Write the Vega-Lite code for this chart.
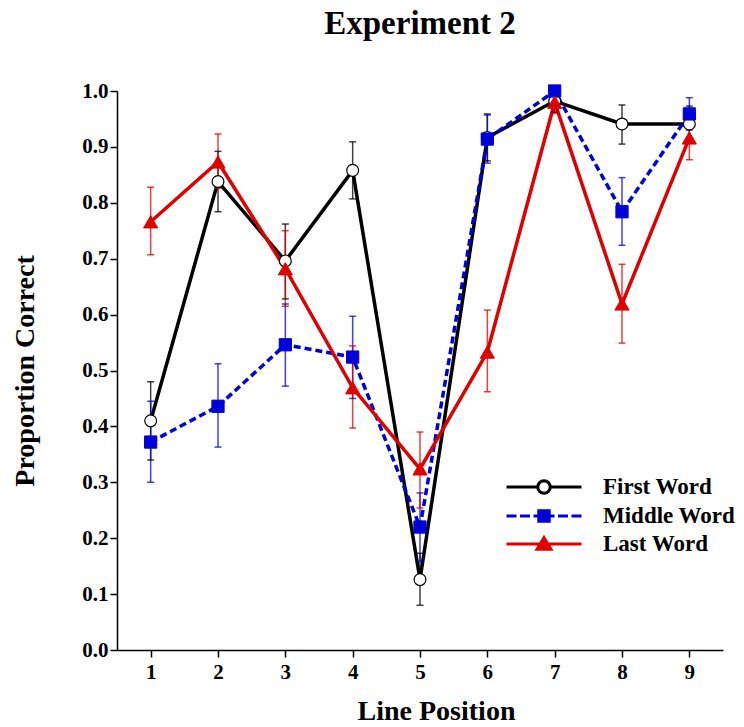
{
  "$schema": "https://vega.github.io/schema/vega-lite/v6.json",
  "width": 606,
  "height": 559,
  "autosize": {"type": "none"},
  "padding": {"left": 117, "top": 91, "right": 21, "bottom": 77},
  "background": "white",
  "title": {"text": "Experiment 2", "font": "Liberation Serif", "fontSize": 33, "fontWeight": "bold", "color": "black", "anchor": "middle", "offset": 39},
  "config": {
    "font": "Liberation Serif",
    "view": {"stroke": null},
    "axis": {"grid": false, "domainColor": "black", "domainWidth": 1.5, "tickColor": "black", "tickWidth": 1.5, "tickSize": 7, "labelFont": "Liberation Serif", "labelFontWeight": "bold", "labelFontSize": 21, "labelColor": "black", "titleFont": "Liberation Serif", "titleFontWeight": "bold", "titleFontSize": 28, "titleColor": "black"}
  },
  "data": {"values": [
    {"pos": 1, "series": "First Word", "y": 0.41, "lo": 0.34, "hi": 0.48},
    {"pos": 2, "series": "First Word", "y": 0.838, "lo": 0.784, "hi": 0.892},
    {"pos": 3, "series": "First Word", "y": 0.696, "lo": 0.628, "hi": 0.762},
    {"pos": 4, "series": "First Word", "y": 0.858, "lo": 0.807, "hi": 0.909},
    {"pos": 5, "series": "First Word", "y": 0.126, "lo": 0.08, "hi": 0.173},
    {"pos": 6, "series": "First Word", "y": 0.917, "lo": 0.875, "hi": 0.959},
    {"pos": 7, "series": "First Word", "y": 0.982, "lo": 0.962, "hi": 1.0},
    {"pos": 8, "series": "First Word", "y": 0.941, "lo": 0.905, "hi": 0.975},
    {"pos": 9, "series": "First Word", "y": 0.941, "lo": 0.91, "hi": 0.973},
    {"pos": 1, "series": "Middle Word", "y": 0.372, "lo": 0.3, "hi": 0.445},
    {"pos": 2, "series": "Middle Word", "y": 0.436, "lo": 0.363, "hi": 0.512},
    {"pos": 3, "series": "Middle Word", "y": 0.546, "lo": 0.472, "hi": 0.619},
    {"pos": 4, "series": "Middle Word", "y": 0.524, "lo": 0.45, "hi": 0.597},
    {"pos": 5, "series": "Middle Word", "y": 0.22, "lo": 0.159, "hi": 0.281},
    {"pos": 6, "series": "Middle Word", "y": 0.914, "lo": 0.871, "hi": 0.957},
    {"pos": 7, "series": "Middle Word", "y": 1.0, "lo": 1.0, "hi": 1.0},
    {"pos": 8, "series": "Middle Word", "y": 0.784, "lo": 0.724, "hi": 0.845},
    {"pos": 9, "series": "Middle Word", "y": 0.959, "lo": 0.93, "hi": 0.988},
    {"pos": 1, "series": "Last Word", "y": 0.766, "lo": 0.707, "hi": 0.828},
    {"pos": 2, "series": "Last Word", "y": 0.873, "lo": 0.826, "hi": 0.923},
    {"pos": 3, "series": "Last Word", "y": 0.682, "lo": 0.615, "hi": 0.75},
    {"pos": 4, "series": "Last Word", "y": 0.469, "lo": 0.397, "hi": 0.544},
    {"pos": 5, "series": "Last Word", "y": 0.324, "lo": 0.254, "hi": 0.39},
    {"pos": 6, "series": "Last Word", "y": 0.533, "lo": 0.462, "hi": 0.608},
    {"pos": 7, "series": "Last Word", "y": 0.98, "lo": 0.96, "hi": 1.0},
    {"pos": 8, "series": "Last Word", "y": 0.619, "lo": 0.549, "hi": 0.69},
    {"pos": 9, "series": "Last Word", "y": 0.916, "lo": 0.877, "hi": 0.955}
  ]},
  "encoding": {
    "x": {"field": "pos", "type": "quantitative", "scale": {"domain": [0.5, 9.5], "nice": false, "zero": false},
          "axis": {"values": [1, 2, 3, 4, 5, 6, 7, 8, 9], "format": "d", "title": "Line Position", "labelPadding": 4, "titlePadding": 15, "titleX": 319}}
  },
  "layer": [
    {
      "transform": [{"filter": "datum.series === 'First Word'"}],
      "mark": {"type": "line", "strokeWidth": 3.5},
      "encoding": {
        "y": {"field": "y", "type": "quantitative", "scale": {"domain": [0, 1], "nice": false},
              "axis": {"values": [0, 0.1, 0.2, 0.3, 0.4, 0.5, 0.6, 0.7, 0.8, 0.9, 1.0], "format": ".1f", "title": "Proportion Correct", "labelPadding": 2, "titlePadding": 42}},
        "stroke": {"field": "series", "type": "nominal", "scale": {"domain": ["First Word", "Middle Word", "Last Word"], "range": ["#000000", "#0000d8", "#e00000"]}}
      }
    },
    {
      "transform": [{"filter": "datum.series === 'Middle Word'"}],
      "mark": {"type": "line", "strokeWidth": 3.5, "strokeDash": [7, 4]},
      "encoding": {
        "y": {"field": "y", "type": "quantitative"},
        "stroke": {"field": "series", "type": "nominal"}
      }
    },
    {
      "transform": [{"filter": "datum.series === 'Last Word'"}],
      "mark": {"type": "line", "strokeWidth": 3.5},
      "encoding": {
        "y": {"field": "y", "type": "quantitative"},
        "stroke": {"field": "series", "type": "nominal"}
      }
    },
    {
      "mark": {"type": "rule", "strokeWidth": 1.5, "opacity": 0.75},
      "encoding": {
        "y": {"field": "lo", "type": "quantitative"},
        "y2": {"field": "hi"},
        "color": {"field": "series", "type": "nominal", "scale": {"domain": ["Last Word", "Middle Word", "First Word"], "range": ["#e00000", "#0000d8", "#000000"]}, "legend": null}
      }
    },
    {
      "mark": {"type": "tick", "orient": "horizontal", "size": 7, "thickness": 1.5, "opacity": 0.75},
      "encoding": {
        "y": {"field": "lo", "type": "quantitative"},
        "color": {"field": "series", "type": "nominal", "legend": null}
      }
    },
    {
      "mark": {"type": "tick", "orient": "horizontal", "size": 7, "thickness": 1.5, "opacity": 0.75},
      "encoding": {
        "y": {"field": "hi", "type": "quantitative"},
        "color": {"field": "series", "type": "nominal", "legend": null}
      }
    },
    {
      "transform": [{"filter": "datum.series === 'First Word'"}],
      "mark": {"type": "point", "shape": "circle", "size": 140, "filled": true, "fill": "#ffffff", "stroke": "#000000", "strokeWidth": 1.2, "opacity": 1},
      "encoding": {"y": {"field": "y", "type": "quantitative"}}
    },
    {
      "transform": [{"filter": "datum.series === 'Middle Word'"}],
      "mark": {"type": "point", "shape": "square", "size": 150, "filled": true, "fill": "#0000d8", "stroke": "#0000d8", "strokeWidth": 1, "opacity": 1},
      "encoding": {"y": {"field": "y", "type": "quantitative"}}
    },
    {
      "transform": [{"filter": "datum.series === 'Last Word'"}],
      "mark": {"type": "point", "shape": "triangle-up", "size": 200, "filled": true, "fill": "#e00000", "stroke": "#e00000", "strokeWidth": 1, "opacity": 1},
      "encoding": {"y": {"field": "y", "type": "quantitative"}}
    },
    {
      "transform": [{"filter": "datum.pos < 0"}],
      "mark": {"type": "point", "filled": true, "opacity": 1, "fillOpacity": 1, "strokeOpacity": 1},
      "encoding": {
        "y": {"field": "y", "type": "quantitative"},
        "stroke": {"field": "series", "type": "nominal"},
        "fill": {"field": "series", "type": "nominal", "scale": {"domain": ["First Word", "Middle Word", "Last Word"], "range": ["#ffffff", "#0000d8", "#e00000"]}},
        "shape": {"field": "series", "type": "nominal",
          "scale": {"domain": ["First Word", "Middle Word", "Last Word"], "range": [
            "M-3,0L-0.5,0M0.5,0L3,0M0.5,0L0.462,0.191L0.354,0.354L0.191,0.462L0,0.5L-0.191,0.462L-0.354,0.354L-0.462,0.191L-0.5,0L-0.462,-0.191L-0.354,-0.354L-0.191,-0.462L0,-0.5L0.191,-0.462L0.354,-0.354L0.462,-0.191Z",
            "M-3,0L-2.2,0M-1.92,0L-1.12,0M-0.84,0L-0.45,0M0.45,0L0.84,0M1.12,0L1.92,0M2.2,0L3,0M-0.42,-0.42L0.42,-0.42L0.42,0.42L-0.42,0.42Z",
            "M-3,0L3,0M0,-0.5L0.56,0.42L-0.56,0.42Z"
          ]},
          "legend": {
            "title": null, "orient": "none", "legendX": 388, "legendY": 382, "padding": 0,
            "symbolSize": 625, "symbolStrokeWidth": 3, "symbolOpacity": 1, "symbolOffset": 25, "labelOffset": 45, "rowPadding": 2,
            "labelFont": "Liberation Serif", "labelFontSize": 23, "labelFontWeight": "bold", "labelColor": "black", "labelLimit": 300
          }
        }
      }
    }
  ]
}
